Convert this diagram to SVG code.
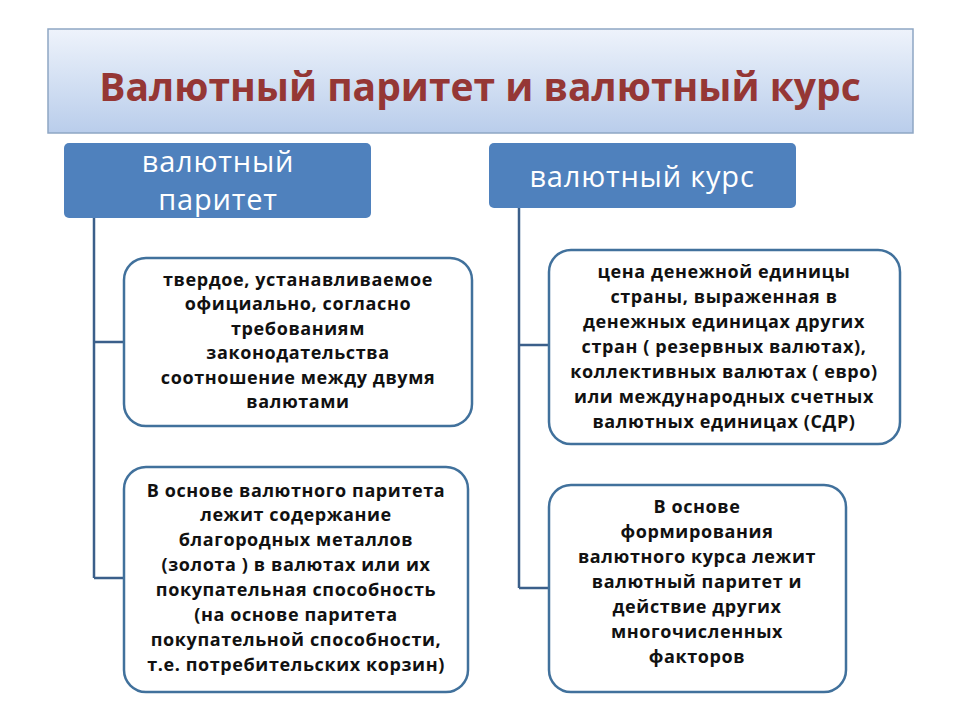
<svg xmlns="http://www.w3.org/2000/svg" width="960" height="720" viewBox="0 0 960 720">
<defs>
<linearGradient id="tg" x1="0" y1="0" x2="0" y2="1"><stop offset="0" stop-color="#eef3fb"/><stop offset="1" stop-color="#b9cdeb"/></linearGradient>
<style>
.hdr{fill:#4f81bd;}
.ht{font-family:"Open Sans","DejaVu Sans",sans-serif;font-size:29px;letter-spacing:0.8px;fill:#fff;text-anchor:middle;}
.box{fill:#fff;stroke:#41719c;stroke-width:2.5;}
.bt{font-family:"Open Sans","DejaVu Sans",sans-serif;font-size:18px;letter-spacing:0.6px;font-weight:bold;fill:#111;text-anchor:middle;}
.ln{stroke:#3b5f8a;stroke-width:2.5;fill:none;}
</style>
</defs>
<rect width="960" height="720" fill="#fff"/>
<g id="title">
<rect x="48" y="29" width="865" height="104" fill="url(#tg)" stroke="#8ea6c4" stroke-width="1.5"/>
<text x="480" y="101" font-family="'Open Sans','DejaVu Sans',sans-serif" font-size="39" font-weight="bold" fill="#953735" text-anchor="middle">Валютный паритет и валютный курс</text>
</g>
<g id="connectors">
<path class="ln" d="M94 218 V578 M94 342 H124 M94 578 H124"/>
<path class="ln" d="M519 208 V588 M519 345 H549 M519 588 H549"/>
</g>
<g id="h1"><rect class="hdr" x="64" y="143" width="307" height="75" rx="5"/>
<text class="ht" x="218" y="172">валютный</text><text class="ht" x="218" y="210">паритет</text></g>
<g id="h2"><rect class="hdr" x="489" y="143" width="307" height="65" rx="5"/>
<text class="ht" x="642" y="187">валютный курс</text></g>
<g id="l1"><rect class="box" x="124" y="258" width="348" height="168" rx="22"/>
<text class="bt"><tspan x="298" y="286">твердое, устанавливаемое</tspan><tspan x="298" y="310">официально,  согласно</tspan><tspan x="298" y="335">требованиям</tspan><tspan x="298" y="359">законодательства</tspan><tspan x="298" y="384">соотношение между двумя</tspan><tspan x="298" y="408">валютами</tspan></text></g>
<g id="l2"><rect class="box" x="124" y="467" width="344" height="225" rx="22"/>
<text class="bt"><tspan x="296" y="497">В основе валютного паритета</tspan><tspan x="296" y="521">лежит содержание</tspan><tspan x="296" y="546">благородных металлов</tspan><tspan x="296" y="571">(золота ) в валютах или их</tspan><tspan x="296" y="596">покупательная способность</tspan><tspan x="296" y="621">(на основе паритета</tspan><tspan x="296" y="646">покупательной способности,</tspan><tspan x="296" y="671">т.е. потребительских корзин)</tspan></text></g>
<g id="r1"><rect class="box" x="549" y="250" width="351" height="194" rx="22"/>
<text class="bt"><tspan x="724" y="278">цена денежной единицы</tspan><tspan x="724" y="303">страны, выраженная в</tspan><tspan x="724" y="328">денежных единицах других</tspan><tspan x="724" y="353">стран ( резервных валютах),</tspan><tspan x="724" y="378">коллективных валютах ( евро)</tspan><tspan x="724" y="403">или международных счетных</tspan><tspan x="724" y="428">валютных единицах (СДР)</tspan></text></g>
<g id="r2"><rect class="box" x="549" y="485" width="297" height="207" rx="22"/>
<text class="bt"><tspan x="697" y="513">В основе</tspan><tspan x="697" y="538">формирования</tspan><tspan x="697" y="563">валютного курса лежит</tspan><tspan x="697" y="588">валютный паритет и</tspan><tspan x="697" y="613">действие других</tspan><tspan x="697" y="638">многочисленных</tspan><tspan x="697" y="663">факторов</tspan></text></g>
</svg>
